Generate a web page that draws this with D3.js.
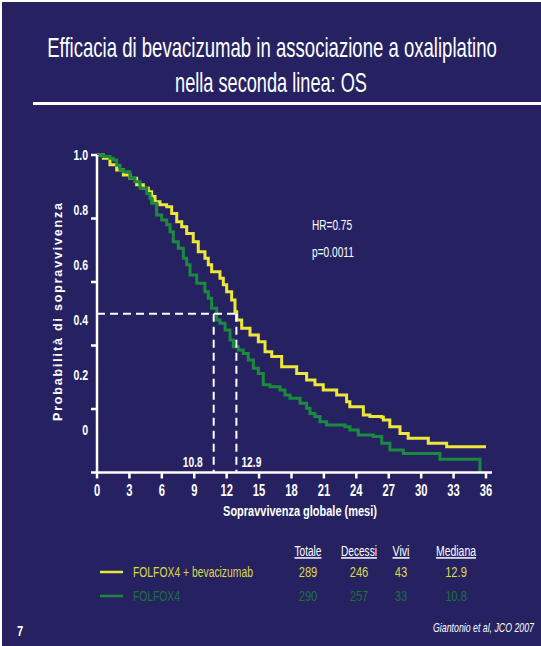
<!DOCTYPE html>
<html><head><meta charset="utf-8">
<script src="https://cdn.jsdelivr.net/npm/d3@7"></script>
<style>
html,body{margin:0;padding:0;background:#fff;}
svg{display:block;}
text{font-family:"Liberation Sans",Arial,Helvetica,sans-serif;}
</style></head>
<body>
<script>
// ---- data ----
const xTicks = [0,3,6,9,12,15,18,21,24,27,30,33,36];
const yTicks = [0.2,0.4,0.6,0.8,1.0];
const yTickLabels = [0,0.2,0.4,0.6,0.8,1.0];
const bevTimes = [0,0.59,1.2,1.82,2.44,3.05,3.67,4.29,4.75,5.06,5.37,5.83,6.45,6.91,7.38,7.84,8.3,8.91,9.37,9.99,10.3,10.61,11.38,11.69,12.0,12.46,12.77,12.93,13.39,14.16,14.93,15.55,16.17,17.09,18.48,19.4,20.17,20.94,22.18,23.1,23.4,24.65,25.26,26.35,26.5,27.1,28.04,28.8,30.66,32.36,36.0];
const bevSurv  = [1.0,0.99,0.969,0.953,0.937,0.927,0.906,0.895,0.884,0.869,0.853,0.843,0.837,0.816,0.79,0.774,0.753,0.727,0.695,0.675,0.654,0.632,0.612,0.591,0.569,0.543,0.506,0.48,0.454,0.433,0.412,0.38,0.365,0.333,0.312,0.291,0.276,0.26,0.244,0.223,0.207,0.181,0.176,0.174,0.165,0.144,0.123,0.108,0.092,0.081,0.081];
const folTimes = [0,0.59,1.2,1.51,1.82,2.13,2.44,3.05,3.52,3.98,4.6,4.9,5.06,5.52,5.99,6.45,6.76,7.06,7.52,7.99,8.3,8.61,9.23,9.99,10.3,10.61,11.08,11.38,11.85,12.31,12.62,13.08,13.54,14.0,14.47,14.93,15.39,16.01,16.93,17.4,17.86,18.79,19.4,19.71,20.17,20.64,21.25,22.95,23.41,24.18,25.57,26.35,27.11,28.35,31.74,35.44];
const folSurv  = [1.0,0.995,0.99,0.984,0.968,0.953,0.947,0.927,0.916,0.895,0.879,0.864,0.848,0.811,0.795,0.78,0.758,0.727,0.706,0.675,0.654,0.622,0.596,0.569,0.549,0.517,0.48,0.47,0.449,0.417,0.396,0.386,0.375,0.354,0.328,0.312,0.276,0.27,0.26,0.244,0.234,0.218,0.202,0.186,0.176,0.16,0.15,0.144,0.134,0.118,0.113,0.092,0.071,0.06,0.042,0.0];
const medians = [12.9, 10.8];
const medianLevel = 0.5;
const statsText = ["HR=0.75","p=0.0011"];
const tableHeaders = ["Totale","Decessi","Vivi","Mediana"];
const armNames = ["FOLFOX4 + bevacizumab","FOLFOX4"];
const armTotale = [289,290];
const armDecessi = [246,257];
const armVivi = [43,33];
const armMediana = ["12.9","10.8"];

// ---- styles ----
const W=541,H=646;
const NAVY="#262262", YEL="#ece83a", GRN="#1b8a3e", WHITE="#ffffff";
const LEG_YEL="#ddd84a", LEG_GRN="#1f6e3c";

const svg=d3.select("body").append("svg").attr("width",W).attr("height",H);
svg.append("rect").attr("x",2).attr("y",2).attr("width",W-2).attr("height",H-2).attr("fill",NAVY);

// helper: condensed text fitted to a width (or fixed horizontal scale)
function ntext(g, str, x, y, o){
  const t=g.append("text").attr("x",0).attr("y",0)
    .attr("text-anchor",o.anchor||"start")
    .attr("font-size",o.size||14)
    .attr("font-weight",o.weight||"normal")
    .attr("font-style",o.style||"normal")
    .attr("fill",o.fill||WHITE)
    .text(str);
  if(o.deco) t.attr("text-decoration",o.deco);
  let sx=o.sx||0.72;
  if(o.w){ const L=t.node().getComputedTextLength(); if(L>0) sx=o.w/L; }
  t.attr("transform",`translate(${x},${y}) scale(${sx},1)`);
  return t;
}

// title
ntext(svg,"Efficacia di bevacizumab in associazione a oxaliplatino",272,57,{size:27,anchor:"middle",w:450});
ntext(svg,"nella seconda linea: OS",271,92,{size:27,anchor:"middle",w:192});
svg.append("rect").attr("x",33).attr("y",102).attr("width",W-33).attr("height",3).attr("fill",WHITE);

// scales
const x=d3.scaleLinear().domain([0,36]).range([97,486]);
const y=d3.scaleLinear().domain([0,1]).range([472.5,155]);
const yLab=d3.scaleLinear().domain([0,1]).range([430,155]);

// KM curves
const line=d3.line().x(d=>x(d[0])).y(d=>y(d[1])).curve(d3.curveStepAfter);
svg.append("path").datum(bevTimes.map((t,i)=>[t,bevSurv[i]])).attr("d",line).attr("fill","none").attr("stroke",YEL).attr("stroke-width",3);
svg.append("path").datum(folTimes.map((t,i)=>[t,folSurv[i]])).attr("d",line).attr("fill","none").attr("stroke",GRN).attr("stroke-width",3);

// axes lines
const ax=svg.append("g").attr("stroke",WHITE).attr("stroke-width",2.5);
ax.append("line").attr("x1",x(0)).attr("x2",x(0)).attr("y1",y(1)).attr("y2",y(0));
ax.append("line").attr("x1",91).attr("x2",492).attr("y1",y(0)).attr("y2",y(0));
ax.selectAll(".yt").data(yTicks).join("line").attr("x1",91).attr("x2",x(0)).attr("y1",d=>y(d)).attr("y2",d=>y(d));
ax.selectAll(".xt").data(xTicks).join("line").attr("x1",d=>x(d)).attr("x2",d=>x(d)).attr("y1",y(0)).attr("y2",y(0)+6);

// tick labels
const tl=svg.append("g");
xTicks.forEach(d=>ntext(tl,String(d),x(d),496,{size:16,weight:"bold",anchor:"middle",sx:0.7}));
yTickLabels.forEach(d=>ntext(tl,d===0?"0":d3.format(".1f")(d),88,yLab(d)+5,{size:14,weight:"bold",anchor:"end",sx:0.75}));
ntext(tl,"Sopravvivenza globale (mesi)",300,516,{size:15,weight:"bold",anchor:"middle",w:154});
svg.append("text").attr("transform","translate(62,312) rotate(-90)").attr("text-anchor","middle").attr("fill",WHITE).attr("font-weight","bold").attr("font-size",12.5).attr("textLength",218).attr("lengthAdjust","spacing").text("Probabilità di sopravvivenza");

// median dashed lines
const dash=svg.append("g").attr("stroke",WHITE).attr("stroke-width",2).attr("stroke-dasharray","8,5").attr("fill","none");
dash.append("line").attr("x1",x(0)).attr("x2",x(d3.max(medians))).attr("y1",y(medianLevel)).attr("y2",y(medianLevel));
dash.selectAll(".mv").data(medians).join("line").attr("x1",d=>x(d)).attr("x2",d=>x(d)).attr("y1",y(medianLevel)).attr("y2",y(0));
ntext(svg,String(medians[1]),x(medians[1])-11,467,{size:14.5,weight:"bold",anchor:"end",w:20});
ntext(svg,String(medians[0]),x(medians[0])+5,467,{size:14.5,weight:"bold",anchor:"start",w:20});

// stats
ntext(svg,statsText[0],312,230,{size:15,w:40});
ntext(svg,statsText[1],312,257,{size:15,w:42});

// legend table
const colX=[308,359,401,456];
const hdrW=[27,36,17,40];
const lg=svg.append("g");
tableHeaders.forEach((h,i)=>ntext(lg,h,colX[i],556,{size:15,anchor:"middle",w:hdrW[i],deco:"underline"}));
const rowY=[577,601], rowC=[LEG_YEL,LEG_GRN], lineC=[YEL,GRN], nameW=[120,47];
armNames.forEach((n,i)=>{
  lg.append("line").attr("x1",100).attr("x2",123).attr("y1",rowY[i]-5).attr("y2",rowY[i]-5).attr("stroke",lineC[i]).attr("stroke-width",2.5);
  ntext(lg,n,133,rowY[i],{size:15.5,fill:rowC[i],w:nameW[i]});
  [armTotale[i],armDecessi[i],armVivi[i],armMediana[i]].forEach((v,j)=>{
    ntext(lg,String(v),colX[j],rowY[i],{size:15.5,anchor:"middle",fill:rowC[i],sx:0.72});
  });
});

// footer
ntext(svg,"Giantonio et al, JCO 2007",534,632,{size:12.5,anchor:"end",style:"italic",w:101});
ntext(svg,"7",17,636,{size:14,weight:"bold",sx:0.8});
</script>
</body></html>
